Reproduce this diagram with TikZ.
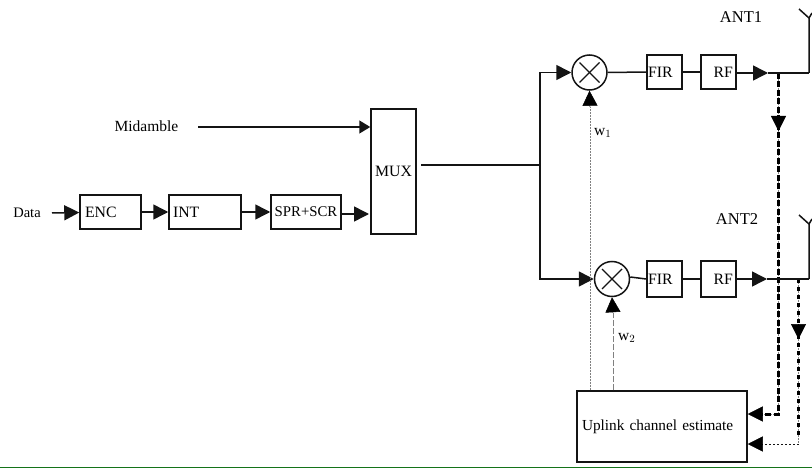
\documentclass[tikz,border=0pt]{standalone}
\usepackage{fontspec}
\setmainfont{Liberation Serif}
\usepackage{tikz}
\usetikzlibrary{arrows.meta, positioning, calc}
\definecolor{mydark}{RGB}{20,20,20}
\definecolor{mygreen}{RGB}{20,115,25}
\tikzset{
  block/.style={rectangle, draw=mydark, fill=white, line width=1.5pt, inner sep=0pt,
    font=\fontsize{15.8}{17}\selectfont},
  mixer/.style={circle, draw=mydark, fill=white, line width=1.5pt, minimum size=35pt, inner sep=0pt,
    path picture={
      \draw[line width=1.4pt] ($(path picture bounding box.center)+(-10,-10)$) -- ($(path picture bounding box.center)+(10,10)$);
      \draw[line width=1.4pt] ($(path picture bounding box.center)+(-10,10)$) -- ($(path picture bounding box.center)+(10,-10)$);
    }},
  arrow/.style={-{Triangle[length=15pt,width=15pt]}, line width=1.5pt, color=mydark},
  thinarrow/.style={-{Triangle[length=11pt,width=13pt]}, line width=1.5pt, color=mydark},
  line/.style={line width=1.5pt, color=mydark},
  under/.style={line width=0.8pt, color=gray, dash pattern=on 2pt off 1pt},
  fbline/.style={line width=3pt, dash pattern=on 6pt off 2.5pt, color=black},
  fbthin/.style={line width=2.2pt, dash pattern=on 4pt off 4pt, color=black},
  fbdot/.style={line width=1pt, dash pattern=on 2pt off 2pt, color=mydark},
  tip/.style={-{Triangle[length=15pt,width=15pt]}, line width=0.5pt, color=black},
  weight/.style={line width=0.8pt, color=gray, dash pattern=on 2pt off 1pt},
  lightweight/.style={line width=0.7pt, color=gray, dash pattern=on 6pt off 2pt},
  lab/.style={inner sep=0pt, font=\fontsize{15.5}{17}\selectfont}
}
\begin{document}
\begin{tikzpicture}[x=1pt, y=-1pt]
  \useasboundingbox (0,0) rectangle (812,468);

  % Feedback lines
  \coordinate (tap1) at (778.5,73);
  \coordinate (tap2) at (798.5,279);
  \coordinate (est1) at (778.5,414);
  \coordinate (est2) at (798.5,444);
  \draw[under] (tap1) -- (est1) -- (760,414);
  \draw[fbline] (tap1) -- (est1) -- (760,414);
  \draw[under] (tap2) -- (est2);
  \draw[fbthin] (tap2) -- (798.5,436);
  \draw[fbdot] (est2) -- (760,444);

  % Blocks
  \node[block, minimum width=61pt, minimum height=34pt, text width=51pt, inner xsep=5pt, align=left] (enc) at (110.5,212) {ENC};
  \node[block, minimum width=72pt, minimum height=34pt, text width=64pt, inner xsep=4pt, align=left] (int) at (205,212) {INT};
  \node[block, minimum width=70pt, minimum height=34pt, font=\fontsize{14.8}{17}\selectfont] (spr) at (306,212) {SPR+SCR};
  \node[block, minimum width=45pt, minimum height=125pt] (mux) at (393.5,171.5) {MUX};
  \node[block, minimum width=35pt, minimum height=34pt, text width=33pt, inner xsep=1pt, align=left] (fir1) at (664.5,72) {FIR};
  \node[block, minimum width=35pt, minimum height=34pt, text width=29pt, inner xsep=3pt, align=right] (rf1) at (718.5,72) {RF};
  \node[block, minimum width=35pt, minimum height=36pt, text width=33pt, inner xsep=1pt, align=left] (fir2) at (664.5,279) {FIR};
  \node[block, minimum width=35pt, minimum height=36pt, text width=29pt, inner xsep=3pt, align=right] (rf2) at (718.5,279) {RF};
  \node[block, minimum width=170pt, minimum height=71pt, text width=160pt, inner xsep=5pt, align=left, font=\fontsize{15.3}{17}\selectfont] (est) at (662,426.5) {\raisebox{-2.5pt}{Uplink channel estimate}};
  \node[mixer] (mix1) at (589.5,72.5) {};
  \node[mixer] (mix2) at (612,279) {};

  % Labels
  \node[lab, font=\fontsize{14.5}{17}\selectfont] (data) at (27,213) {Data};
  \node[lab] (mid) at (146.5,126) {Midamble};
  \node[lab, font=\fontsize{16.5}{18}\selectfont] (ant1) at (741,17) {ANT1};
  \node[lab, font=\fontsize{16.5}{18}\selectfont] (ant2) at (737,219) {ANT2};
  \node[lab, anchor=west] (w1) at (594,133) {w$_1$};
  \node[lab, anchor=west] (w2) at (618,338) {w$_2$};

  % Junctions
  \coordinate (midS) at (198,127);
  \coordinate (dataS) at (52,213);
  \coordinate (muxS) at (421,165);
  \coordinate (branch) at (540,165);
  \coordinate (out1) at (809,73);
  \coordinate (out2) at (809,279);
  \coordinate (top1) at (809,18);
  \coordinate (top2) at (809,224);

  % Connections
  \draw[arrow] (dataS) -- (enc);
  \draw[arrow] (enc) -- (int);
  \draw[arrow] (int) -- (spr);
  \draw[arrow] (spr.east |- 0,214) -- (369,214);
  \draw[thinarrow] (midS) -- (midS -| mux.west);
  \draw[line] (muxS) -- (branch);
  \draw[arrow] (branch) |- (mix1.west);
  \draw[arrow] (branch) |- (mix2.west);
  \draw[line] (mix1) -- (fir1);
  \draw[line] (fir1) -- (rf1);
  \draw[arrow] (rf1.east |- out1) -- (768,73);
  \draw[line] (768,73) -- (out1);
  \draw[line] ($(mix2.east)+(0,-2)$) -- (fir2.west);
  \draw[line] (fir2) -- (rf2);
  \draw[arrow] (rf2) -- (767,279);
  \draw[line] (767,279) -- (out2);

  % Antennas
  \draw[line] (out1) -- (top1) -- (799,9);
  \draw[line] (top1) -- (812,13);
  \draw[line] (out2) -- (top2) -- (799,215);
  \draw[line] (top2) -- (812,219);

  % Feedback tips
  \draw[tip] (778.5,117) -- (778.5,131);
  \draw[tip] (798.5,325) -- (798.5,339);
  \draw[tip] (761,414) -- (est.east |- est1);
  \draw[tip] (761,444) -- (est.east |- est2);

  % Weights
  \draw[weight] (est.north -| 590,0) -- (590,107);
  \draw[tip] (590,107) -- (mix1.south);
  \draw[lightweight] (est.north -| 613,0) -- (613,313);
  \draw[tip] (613,313) -- (mix2.south);

  % Bottom rule
  \draw[mygreen, line width=1pt] (0,467.5) -- (812,467.5);
\end{tikzpicture}
\end{document}
